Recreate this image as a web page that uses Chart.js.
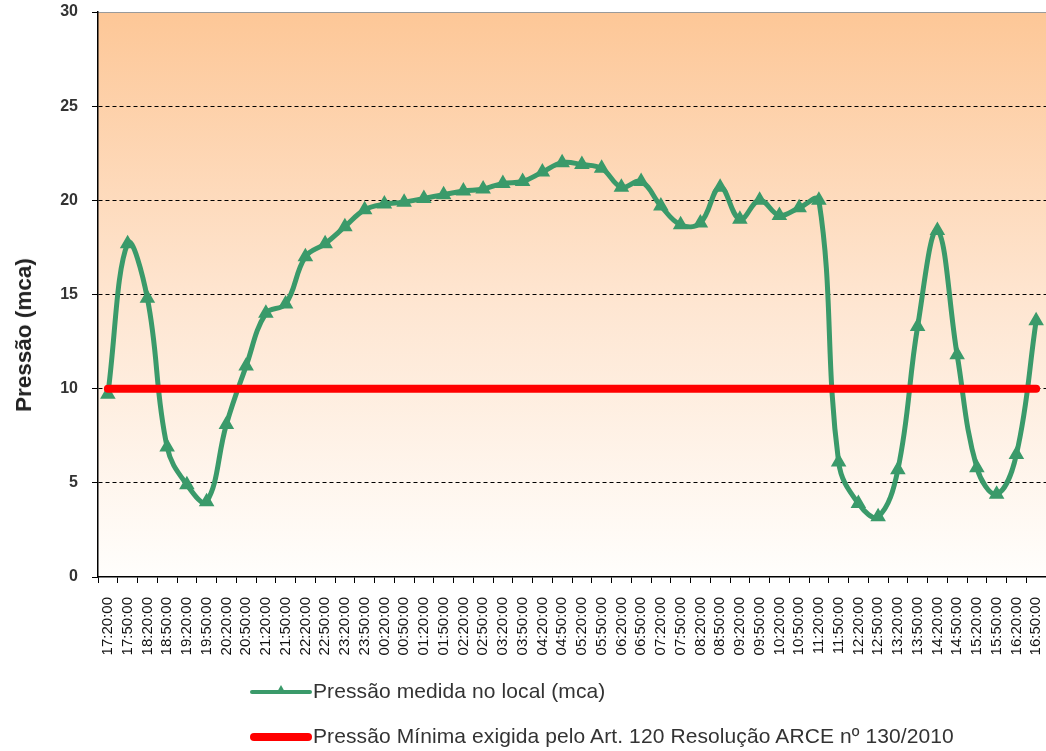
<!DOCTYPE html>
<html>
<head>
<meta charset="utf-8">
<script src="https://cdn.jsdelivr.net/npm/chart.js@4/dist/chart.umd.min.js"></script>
<style>
  body { margin: 0; background: #fff; font-family: "Liberation Sans", Arial, sans-serif; }
  #wrap { position: relative; width: 1046px; height: 751px; }
  #ytitle {
    position: absolute; left: 24px; top: 335px;
    transform: translate(-50%, -50%) rotate(-90deg);
    font-weight: bold; font-size: 22.5px; color: #222; white-space: nowrap;
  }
  .leg { position: absolute; left: 250px; font-size: 21px; color: #333; white-space: nowrap; letter-spacing: 0.1px; }
  .leg .sample { display: inline-block; position: relative; width: 62px; vertical-align: middle; margin-right: 1px; }
  .leg .bar { position: absolute; left: 0; right: 0; border-radius: 5px; }
  .leg .tri { position: absolute; left: 26px; top: -5px; width: 0; height: 0;
    border-left: 5px solid transparent; border-right: 5px solid transparent; border-bottom: 9px solid #3a9a6a; }
</style>
</head>
<body>
<div id="wrap">
  <canvas id="chart" width="1046" height="751"></canvas>
  <div id="ytitle">Pressão (mca)</div>
  <div class="leg" style="top:679px">
    <span class="sample" style="height:4px"><span class="bar" style="top:0;height:4px;background:#3a9a6a"></span><span class="tri"></span></span>Pressão medida no local (mca)
  </div>
  <div class="leg" style="top:724px">
    <span class="sample" style="height:8px"><span class="bar" style="top:0;height:8px;background:#ff0000"></span></span>Pressão Mínima exigida pelo Art. 120 Resolução ARCE nº 130/2010
  </div>
</div>
<script>
// time labels every 30 minutes
const horarios = ['17:20:00','17:50:00','18:20:00','18:50:00','19:20:00','19:50:00','20:20:00','20:50:00',
  '21:20:00','21:50:00','22:20:00','22:50:00','23:20:00','23:50:00','00:20:00','00:50:00',
  '01:20:00','01:50:00','02:20:00','02:50:00','03:20:00','03:50:00','04:20:00','04:50:00',
  '05:20:00','05:50:00','06:20:00','06:50:00','07:20:00','07:50:00','08:20:00','08:50:00',
  '09:20:00','09:50:00','10:20:00','10:50:00','11:20:00','11:50:00','12:20:00','12:50:00',
  '13:20:00','13:50:00','14:20:00','14:50:00','15:20:00','15:50:00','16:20:00','16:50:00'];

// measured pressure (mca)
const pressaoMedida = [9.7, 17.7, 14.8, 6.9, 4.9, 4.0, 8.1, 11.2,
  14.0, 14.5, 17.0, 17.7, 18.6, 19.5, 19.8, 19.9,
  20.1, 20.3, 20.5, 20.6, 20.9, 21.0, 21.5, 22.0,
  21.9, 21.7, 20.7, 21.0, 19.7, 18.7, 18.8, 20.7,
  19.0, 20.0, 19.2, 19.6, 20.0, 6.1, 3.9, 3.2,
  5.7, 13.3, 18.4, 11.8, 5.8, 4.4, 6.5, 13.6];

// minimum required pressure
const pressaoMinima = horarios.map(() => 10);

const yTicks = [0, 5, 10, 15, 20, 25, 30];

// background gradient + top border of plot area
const plotBackground = {
  id: 'plotBackground',
  beforeDraw(chart) {
    const { ctx, chartArea: a } = chart;
    const g = ctx.createLinearGradient(0, a.top, 0, a.bottom);
    g.addColorStop(0, '#fdc797');
    g.addColorStop(0.5, '#fee5d0');
    g.addColorStop(1, '#fffefc');
    ctx.save();
    ctx.fillStyle = g;
    ctx.fillRect(a.left, a.top, a.right - a.left, a.bottom - a.top);
    ctx.strokeStyle = '#9a9a9a';
    ctx.lineWidth = 1;
    ctx.beginPath();
    ctx.moveTo(a.left, a.top + 0.5);
    ctx.lineTo(a.right, a.top + 0.5);
    ctx.stroke();
    ctx.restore();
  }
};

const myChart = document.getElementById('chart');

let chart = new Chart(myChart, {
  type: 'line',
  data: {
    labels: horarios,
    datasets: [{
      label: 'Pressão medida no local (mca)',
      data: pressaoMedida,
      borderColor: '#3a9a6a',
      backgroundColor: '#3a9a6a',
      borderWidth: 5,
      tension: 0.4,
      pointStyle: 'triangle',
      pointRadius: 4,
      order: 2
    }, {
      label: 'Pressão Mínima exigida pelo Art. 120 Resolução ARCE nº 130/2010',
      data: pressaoMinima,
      borderColor: '#ff0000',
      backgroundColor: '#ff0000',
      borderWidth: 8,
      borderCapStyle: 'round',
      pointRadius: 0,
      order: 1
    }]
  },
  plugins: [plotBackground],
  options: {
    responsive: false,
    animation: false,
    layout: { autoPadding: false, padding: { left: 0, right: 0, top: 12, bottom: 74 } },
    plugins: {
      legend: { display: false },
      tooltip: { enabled: false }
    },
    scales: {
      x: {
        offset: true,
        grid: { offset: true, drawOnChartArea: false, tickLength: 6, tickColor: '#000' },
        border: { color: '#000', width: 1.5 },
        ticks: {
          autoSkip: false, maxRotation: 90, minRotation: 90,
          color: '#111', font: { family: 'Liberation Sans', size: 15 }, padding: 14
        },
        afterFit: s => { s.height = 100; s.paddingLeft = 0; s.paddingRight = 0; }
      },
      y: {
        min: 0, max: 30,
        afterBuildTicks: s => { s.ticks = yTicks.map(v => ({ value: v })); },
        grid: {
          color: c => (c.tick && (c.tick.value === 0 || c.tick.value === 30)) ? 'rgba(0,0,0,0)' : '#000',
          tickColor: '#000',
          tickLength: 6
        },
        border: { color: '#000', width: 1.5, dash: [4, 3] },
        ticks: {
          color: '#333', font: { family: 'Liberation Sans', size: 16, weight: 'bold' }, padding: 14
        },
        afterFit: s => { s.width = 98; s.paddingTop = 0; s.paddingBottom = 0; }
      }
    }
  }
});
</script>
</body>
</html>
